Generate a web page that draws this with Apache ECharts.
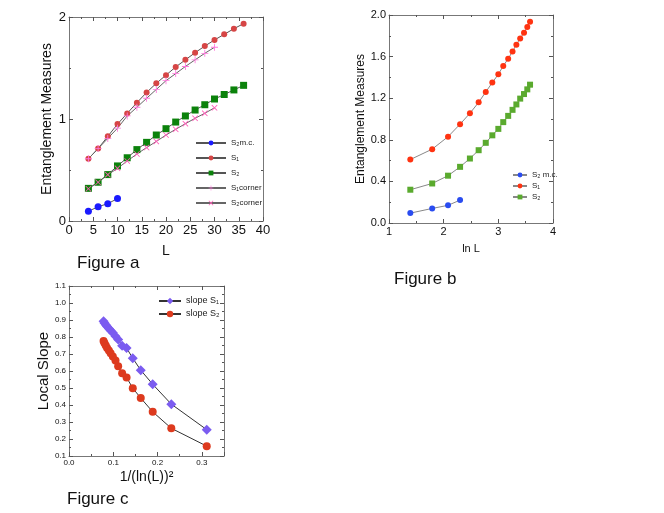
<!DOCTYPE html>
<html>
<head>
<meta charset="utf-8">
<script src="https://cdn.jsdelivr.net/npm/echarts@6/dist/echarts.min.js"></script>
<style>
  html, body { margin: 0; padding: 0; background: #fff; }
  #main { width: 664px; height: 513px; }
</style>
</head>
<body>
<div id="main"></div>
<script>
// figure a: measures vs L
const L = [4, 6, 8, 10, 12, 14, 16, 18, 20, 22, 24, 26, 28, 30, 32, 34, 36];
const S1 = [0.61, 0.71, 0.83, 0.95, 1.055, 1.16, 1.26, 1.35, 1.43, 1.51, 1.58, 1.65, 1.715, 1.775, 1.83, 1.885, 1.935];
const S2 = [0.32, 0.38, 0.455, 0.54, 0.62, 0.70, 0.771, 0.843, 0.905, 0.97, 1.03, 1.088, 1.14, 1.196, 1.24, 1.285, 1.33];
const Lmc = [4, 6, 8, 10];
const S2mc = [0.095, 0.14, 0.17, 0.22];
const Lcorner = [4, 6, 8, 10, 12, 14, 16, 18, 20, 22, 24, 26, 28, 30];
const S1corner = [0.61, 0.71, 0.81, 0.91, 1.03, 1.115, 1.203, 1.29, 1.376, 1.445, 1.515, 1.58, 1.644, 1.703];
const S2corner = [0.316, 0.38, 0.454, 0.516, 0.588, 0.657, 0.72, 0.78, 0.843, 0.899, 0.954, 1.007, 1.056, 1.11];

// figure b: measures vs ln L
const lnL = [1.39, 1.79, 2.08, 2.30, 2.48, 2.64, 2.77, 2.89, 3.00, 3.09, 3.18, 3.26, 3.33, 3.40, 3.47, 3.53, 3.58];
const lnLmc = [1.39, 1.79, 2.08, 2.30];

// figure c: local slope vs 1/(ln L)^2
const invLn2 = [0.311, 0.231, 0.189, 0.162, 0.144, 0.130, 0.120, 0.111, 0.105, 0.099, 0.094, 0.090, 0.086, 0.083, 0.080, 0.078];
const slopeS1 = [0.255, 0.405, 0.522, 0.605, 0.675, 0.735, 0.748, 0.785, 0.805, 0.825, 0.838, 0.850, 0.862, 0.872, 0.883, 0.893];
const slopeS2 = [0.158, 0.263, 0.36, 0.441, 0.499, 0.562, 0.587, 0.628, 0.662, 0.685, 0.705, 0.72, 0.735, 0.75, 0.765, 0.776];

const zip = (xs, ys) => xs.map((x, i) => [x, ys[i]]);

const FONT = "'Liberation Sans', Arial, sans-serif";
const PLUS = 'path://M4.4,0H5.6V4.4H10V5.6H5.6V10H4.4V5.6H0V4.4H4.4Z';
const CROSS = 'path://M1,0L5,4L9,0L10,1L6,5L10,9L9,10L5,6L1,10L0,9L4,5L0,1Z';

let dom = document.getElementById('main');
let chart = echarts.init(dom);

// one pair of axes per side, so every panel gets a closed frame with ticks inside
function axisBase(grid, min, max, interval) {
    return {
        gridIndex: grid,
        type: 'value',
        min: min,
        max: max,
        interval: interval,
        axisLine: { show: true, onZero: false, lineStyle: { color: '#777', width: 1 } },
        axisTick: { show: true, inside: true, length: 4, lineStyle: { color: '#555' } },
        minorTick: { show: true, splitNumber: 2, length: 2, lineStyle: { color: '#555' } },
        splitLine: { show: false }
    };
}
function xPair(grid, min, max, interval, fontSize, fmt) {
    return [
        Object.assign(axisBase(grid, min, max, interval), {
            position: 'bottom',
            axisLabel: { fontSize: fontSize, color: '#111', fontFamily: FONT, margin: 3, formatter: fmt }
        }),
        Object.assign(axisBase(grid, min, max, interval), { position: 'top', axisLabel: { show: false } })
    ];
}
function yPair(grid, min, max, interval, fontSize, fmt) {
    return [
        Object.assign(axisBase(grid, min, max, interval), {
            position: 'left',
            axisLabel: { fontSize: fontSize, color: '#111', fontFamily: FONT, margin: 3, formatter: fmt }
        }),
        Object.assign(axisBase(grid, min, max, interval), { position: 'right', axisLabel: { show: false } })
    ];
}

const xs = [].concat(
    xPair(0, 0, 40, 5, 13),
    xPair(1, 1, 4, 1, 11),
    xPair(2, 0, 0.35, 0.1, 8, v => (Math.abs(v * 10 - Math.round(v * 10)) < 1e-6 ? v.toFixed(1) : ''))
);
const ys = [].concat(
    yPair(0, 0, 2, 1, 13),
    yPair(1, 0, 2, 0.4, 11, v => v.toFixed(1)),
    yPair(2, 0.1, 1.1, 0.1, 8, v => v.toFixed(1))
);

// axis titles
Object.assign(xs[0], { name: 'L', nameLocation: 'middle', nameGap: 23, nameTextStyle: { fontSize: 14, fontFamily: FONT, color: '#111' } });
Object.assign(ys[0], { name: 'Entanglement Measures', nameLocation: 'middle', nameGap: 15, nameTextStyle: { fontSize: 14, fontFamily: FONT, color: '#111' } });
Object.assign(xs[2], { name: 'ln L', nameLocation: 'middle', nameGap: 20, nameTextStyle: { fontSize: 11, fontFamily: FONT, color: '#111' } });
Object.assign(ys[2], { name: 'Entanglement Measures', nameLocation: 'middle', nameGap: 18, nameTextStyle: { fontSize: 12, fontFamily: FONT, color: '#111' } });
Object.assign(xs[4], { name: '1/(ln(L))²', nameLocation: 'middle', nameGap: 14, nameTextStyle: { fontSize: 14, fontFamily: FONT, color: '#111' } });
Object.assign(ys[4], { name: 'Local Slope', nameLocation: 'middle', nameGap: 18, nameTextStyle: { fontSize: 15, fontFamily: FONT, color: '#111' } });

function line(name, data, xi, yi, symbol, size, color, lineColor) {
    return {
        name: name,
        type: 'line',
        xAxisIndex: xi,
        yAxisIndex: yi,
        data: data,
        symbol: symbol,
        symbolSize: size,
        showAllSymbol: true,
        itemStyle: { color: color },
        lineStyle: { color: lineColor, width: 1 },
        animation: false
    };
}

let option = {
    backgroundColor: '#fff',
    textStyle: { fontFamily: FONT },
    title: [
        { text: 'Figure a', left: 72, top: 250, textStyle: { fontSize: 17, fontWeight: 'normal', color: '#111', fontFamily: FONT } },
        { text: 'Figure b', left: 389, top: 266, textStyle: { fontSize: 17, fontWeight: 'normal', color: '#111', fontFamily: FONT } },
        { text: 'Figure c', left: 62, top: 486, textStyle: { fontSize: 17, fontWeight: 'normal', color: '#111', fontFamily: FONT } }
    ],
    grid: [
        { left: 69, top: 17, width: 194, height: 204 },
        { left: 389, top: 15, width: 164, height: 208 },
        { left: 69, top: 286, width: 155, height: 170 }
    ],
    xAxis: xs,
    yAxis: ys,
    legend: [
        {
            orient: 'vertical', left: 190, top: 133, itemWidth: 30, itemHeight: 6, itemGap: 5,
            textStyle: { fontSize: 8, lineHeight: 10, color: '#222', fontFamily: FONT },
            data: ['S₂m.c.', 'S₁', 'S₂', 'S₁corner', 'S₂corner']
        },
        {
            orient: 'vertical', left: 507, top: 165, itemWidth: 14, itemHeight: 6, itemGap: 1,
            textStyle: { fontSize: 8, lineHeight: 10, color: '#222', fontFamily: FONT },
            data: ['S₂ m.c.', 'S₁ ', 'S₂ ']
        },
        {
            orient: 'vertical', left: 153, top: 291, itemWidth: 22, itemHeight: 8, itemGap: 3,
            textStyle: { fontSize: 9, lineHeight: 10, color: '#222', fontFamily: FONT },
            data: ['slope S₁', 'slope S₂']
        }
    ],
    series: [
        line('S₂m.c.', zip(Lmc, S2mc), 0, 0, 'circle', 7, '#1a1aff', '#555'),
        line('S₁', zip(L, S1), 0, 0, 'circle', 6, '#d64545', '#555'),
        line('S₂', zip(L, S2), 0, 0, 'rect', 7, '#0b820b', '#555'),
        line('S₁corner', zip(Lcorner, S1corner), 0, 0, PLUS, 7, '#ff77dd', '#666'),
        line('S₂corner', zip(Lcorner, S2corner), 0, 0, CROSS, 6, '#ff5cb8', '#666'),

        line('S₂ m.c.', zip(lnLmc, S2mc), 2, 2, 'circle', 6, '#2a4cf0', '#888'),
        line('S₁ ', zip(lnL, S1), 2, 2, 'circle', 6, '#ff3311', '#888'),
        line('S₂ ', zip(lnL, S2), 2, 2, 'rect', 6, '#5aaa2e', '#888'),

        line('slope S₁', zip(invLn2, slopeS1), 4, 4, 'diamond', 10, '#7b5cf0', '#333'),
        line('slope S₂', zip(invLn2, slopeS2), 4, 4, 'circle', 8, '#dd3a1e', '#333')
    ]
};

chart.setOption(option);
window.addEventListener('resize', function () {
    chart.resize();
});
</script>
</body>
</html>
